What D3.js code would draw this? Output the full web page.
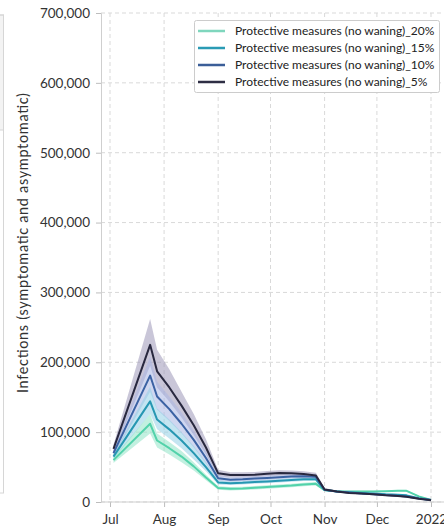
<!DOCTYPE html>
<html>
<head>
<meta charset="utf-8">
<script src="https://cdn.jsdelivr.net/npm/d3@7"></script>
<style>
  html, body { margin: 0; padding: 0; background: #fff; }
  svg { display: block; font-family: Lato, "Open Sans", sans-serif; }
</style>
</head>
<body>
<svg id="chart" width="444" height="530"></svg>
<script>
// Weekly model output dates
const dates = ["2021-07-03","2021-07-24","2021-07-28","2021-08-04","2021-08-11","2021-08-18","2021-08-25",
  "2021-09-01","2021-09-08","2021-09-15","2021-09-22","2021-09-29","2021-10-06","2021-10-13","2021-10-20",
  "2021-10-27","2021-11-01","2021-11-08","2021-11-15","2021-11-22","2021-11-29","2021-12-06","2021-12-13",
  "2021-12-18","2021-12-25","2022-01-01"];

// Median infections per scenario
const mid20 = [60000,112000,88000,77000,65000,51000,35000,20000,19000,19500,20500,21500,22500,23500,25000,26000,17000,15500,15000,15000,15000,15500,16000,16000,8000,3000];
const mid15 = [65000,144000,118000,104000,88000,70000,50000,28000,27000,27500,28500,29500,30500,31500,32500,32500,17000,15000,14000,13000,12000,11000,10500,9500,5500,3000];
const mid10 = [70000,181000,151000,133000,112000,89000,63000,34000,32000,32500,33500,34500,35500,36500,37000,36000,17500,15000,13500,12000,11000,10000,9000,8000,5000,2800];
const mid5  = [76000,225000,187000,164000,138000,110000,78000,41000,38500,38500,39000,40500,41500,41000,40000,38000,18000,15000,13000,12000,11000,9500,8500,7500,4500,2500];

// Uncertainty bands (lower / upper)
const lo20 = [56000,98000,78000,68000,57000,45000,31000,17500,16500,17000,18000,19000,20000,21000,22500,23500,15500,14500,14000,14000,14000,14500,15000,15000,7000,2500];
const hi20 = [64000,126000,98000,86000,73000,57000,39000,22500,21500,22000,23000,24000,25000,26000,27500,28500,18500,16500,16000,16000,16000,16500,17000,17000,9000,3500];
const lo15 = [61000,126000,104000,91000,77000,61000,44000,25000,24500,25000,26000,27000,28000,29000,30000,30000,16000,14000,13000,12000,11000,10000,9500,8500,5000,2500];
const hi15 = [69000,165000,134000,118000,100000,80000,57000,31000,29500,30000,31000,32000,33000,34000,35000,35000,18000,16000,15000,14000,13000,12000,11500,10500,6000,3500];
const lo10 = [65000,158000,132000,116000,98000,78000,55000,30500,29000,29500,30500,31500,32500,33500,34000,33000,16500,14000,12500,11000,10000,9000,8000,7000,4500,2300];
const hi10 = [75000,208000,172000,151000,128000,102000,72000,38000,35500,36000,37000,38000,39000,40000,40500,39500,19000,16000,14500,13000,12000,11000,10000,9000,5500,3300];
const lo5  = [70000,195000,164000,144000,121000,96000,68000,37000,35000,35000,35500,37000,38000,37500,36500,34500,16500,14000,12000,11000,10000,8500,7500,6500,4000,2000];
const hi5  = [82000,262000,218000,190000,158000,126000,90000,46000,42500,42500,43000,44500,45500,45000,44000,42000,20000,16500,14500,13000,12000,10500,9500,8500,5200,3000];

const seriesNames = ["Protective measures (no waning)_20%","Protective measures (no waning)_15%",
  "Protective measures (no waning)_10%","Protective measures (no waning)_5%"];
const lineColors = ["#52d2aa","#2697b2","#3b62a3","#28283f"];
const bandColors = ["#8fe3c6","#93d0e6","#a9b6e4","#9d98b8"];

const yTicks = [0,100000,200000,300000,400000,500000,600000,700000];

const parse = d3.timeParse("%Y-%m-%d");
const xs = dates.map(parse);

const svg = d3.select("#chart");

const plotLeft = 101, plotBottom = 502, plotTop = 13, plotRight = 450;
const x = d3.scaleTime()
  .domain([parse("2021-07-01"), parse("2022-01-01")])
  .range([110, 431]);
const y = d3.scaleLinear().domain([0, 700000]).range([plotBottom, plotTop]);

// neighbouring panel edge
svg.append("rect").attr("x", -20).attr("y", 15).attr("width", 23.5).attr("height", 115)
  .attr("fill", "#f3f3f3").attr("stroke", "#d6d6d6");
svg.append("rect").attr("x", -20).attr("y", 15).attr("width", 23.5).attr("height", 478)
  .attr("fill", "none").attr("stroke", "#d6d6d6");

// grid
const grid = svg.append("g");
yTicks.forEach(t => {
  grid.append("line").attr("x1", plotLeft).attr("x2", plotRight).attr("y1", y(t)).attr("y2", y(t))
    .attr("stroke", "#d9d9d9").attr("stroke-dasharray", "4,3").attr("stroke-width", 1);
});
const monthTicks = d3.timeMonth.range(parse("2021-07-01"), parse("2022-01-02"));
monthTicks.forEach(t => {
  grid.append("line").attr("x1", x(t)).attr("x2", x(t)).attr("y1", plotTop).attr("y2", plotBottom)
    .attr("stroke", "#d9d9d9").attr("stroke-dasharray", "4,3").attr("stroke-width", 1);
});

// axes
const yAxis = d3.axisLeft(y).tickValues(yTicks).tickFormat(d3.format(",")).tickSize(5).tickPadding(6);
const gy = svg.append("g").attr("transform", `translate(${plotLeft},0)`).call(yAxis);
gy.select(".domain").attr("stroke", "#cfcfcf");
gy.selectAll(".tick line").attr("stroke", "#bdbdbd");
gy.selectAll(".tick text").attr("font-size", 13.5).attr("fill", "#333").attr("font-family", "Lato, sans-serif");

const fmtMonth = d => d.getMonth() === 0 ? d3.timeFormat("%Y")(d) : d3.timeFormat("%b")(d);
const xAxis = d3.axisBottom(x).tickValues(monthTicks).tickFormat(fmtMonth).tickSize(5).tickPadding(7);
const gx = svg.append("g").attr("transform", `translate(0,${plotBottom})`).call(xAxis);
gx.select(".domain").remove();
gx.append("line").attr("x1", plotLeft).attr("x2", plotRight).attr("stroke", "#cfcfcf");
gx.selectAll(".tick line").attr("stroke", "#bdbdbd");
gx.selectAll(".tick text").attr("font-size", 13.5).attr("fill", "#333").attr("font-family", "Lato, sans-serif");

// y title
svg.append("text")
  .attr("transform", "translate(28,243) rotate(-90)")
  .attr("text-anchor", "middle")
  .attr("font-size", 14.5).attr("fill", "#333")
  .attr("textLength", 300).attr("lengthAdjust", "spacing")
  .text("Infections (symptomatic and asymptomatic)");

// data
const mids = [mid20, mid15, mid10, mid5];
const los = [lo20, lo15, lo10, lo5];
const his = [hi20, hi15, hi10, hi5];

const area = d3.area().x((d, i) => x(xs[i])).y0(d => y(d[0])).y1(d => y(d[1])).curve(d3.curveLinear);
const line = d3.line().x((d, i) => x(xs[i])).y(d => y(d)).curve(d3.curveLinear);

const plot = svg.append("g");
// bands: widest scenario at the back
[3, 2, 1, 0].forEach(k => {
  const pts = los[k].map((v, i) => [v, his[k][i]]);
  plot.append("path").attr("d", area(pts))
    .attr("fill", bandColors[k]).attr("fill-opacity", 0.55);
});
[0, 1, 2, 3].forEach(k => {
  plot.append("path").attr("d", line(mids[k]))
    .attr("fill", "none").attr("stroke", lineColors[k]).attr("stroke-width", 2)
    .attr("stroke-linejoin", "round");
});

// legend
const lg = svg.append("g");
lg.append("rect").attr("x", 194.5).attr("y", 20.5).attr("width", 245).attr("height", 72)
  .attr("rx", 2).attr("fill", "#fff").attr("stroke", "#cccccc");
const legendColors = ["#7fd6bd","#2a9bb4","#3b5e98","#2e2e44"];
seriesNames.forEach((name, i) => {
  const cy = 31 + i * 17;
  lg.append("line").attr("x1", 198).attr("x2", 225).attr("y1", cy).attr("y2", cy)
    .attr("stroke", legendColors[i]).attr("stroke-width", 2.5);
  lg.append("text").attr("x", 235).attr("y", cy + 4)
    .attr("font-size", 12).attr("fill", "#222").text(name);
});
</script>
</body>
</html>
